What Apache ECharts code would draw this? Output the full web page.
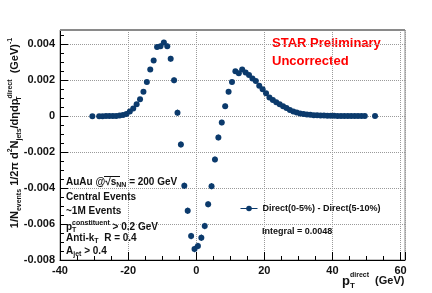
<!DOCTYPE html>
<html>
<head>
<meta charset="utf-8">
<script src="https://cdn.jsdelivr.net/npm/echarts@6/dist/echarts.min.js"></script>
<style>
html,body{margin:0;padding:0;background:#fff;}
#c{width:432px;height:293px;}
</style>
</head>
<body>
<div id="c"></div>
<script>
// ---- data ----
var pT = [-30.5, -28.5, -27.5, -26.5, -25.5, -24.5, -23.5, -22.5, -21.5, -20.5,
  -19.5, -18.5, -17.5, -16.5, -15.5, -14.5, -13.5, -12.5, -11.5, -10.5,
  -9.5, -8.5, -7.5, -6.5, -5.5, -4.5, -3.5, -2.5, -1.5, -0.5,
  0.5, 1.5, 2.5, 3.5, 4.5, 5.5, 6.5, 7.5, 8.5, 9.5,
  10.5, 11.5, 12.5, 13.5, 14.5, 15.5, 16.5, 17.5, 18.5, 19.5,
  20.5, 21.5, 22.5, 23.5, 24.5, 25.5, 26.5, 27.5, 28.5, 29.5,
  30.5, 31.5, 32.5, 33.5, 34.5, 35.5, 36.5, 37.5, 38.5, 39.5,
  40.5, 41.5, 42.5, 43.5, 44.5, 45.5, 46.5, 47.5, 48.5, 49.5, 52.5];
var diffValues = [0.00000, 0.00000, 0.00000, 0.00001, 0.00001, 0.00001, 0.00002, 0.00004, 0.00007, 0.00012,
  0.00026, 0.00043, 0.00067, 0.00094, 0.00137, 0.0019, 0.0026, 0.0031, 0.00385, 0.0039,
  0.0041, 0.0039, 0.0032, 0.0020, 0.0002, -0.00157, -0.00387, -0.00526, -0.00667, -0.00739,
  -0.00722, -0.00676, -0.00611, -0.0049, -0.00389, -0.0024, -0.00118, -0.00035, 0.00056, 0.00137,
  0.0019, 0.0025, 0.0024, 0.0026, 0.00244, 0.0023, 0.0021, 0.00196, 0.0017, 0.0015,
  0.00128, 0.00104, 0.0009, 0.00078, 0.00067, 0.00056, 0.00046, 0.00035, 0.00027, 0.00021,
  0.00016, 0.00012, 0.0001, 0.00008, 0.00006, 0.00005, 0.00004, 0.00004, 0.00003, 0.00003,
  0.00003, 0.00002, 0.00002, 0.00002, 0.00002, 0.00002, 0.00001, 0.00001, 0.00001, 0.00001, 0.00001];
var diffErrors = [0.00002, 0.00002, 0.00002, 0.00002, 0.00002, 0.00002, 0.00002, 0.00003, 0.00003, 0.00004,
  0.00005, 0.00006, 0.00007, 0.00008, 0.0001, 0.00011, 0.00012, 0.00013, 0.00014, 0.00015,
  0.00015, 0.00015, 0.00016, 0.00016, 0.00017, 0.00017, 0.00018, 0.00018, 0.00018, 0.00018,
  0.00018, 0.00018, 0.00018, 0.00017, 0.00017, 0.00016, 0.00016, 0.00015, 0.00015, 0.00014,
  0.00013, 0.00012, 0.00011, 0.0001, 0.00009, 0.00008, 0.00008, 0.00007, 0.00006, 0.00006,
  0.00005, 0.00005, 0.00004, 0.00004, 0.00004, 0.00003, 0.00003, 0.00003, 0.00003, 0.00002,
  0.00002, 0.00002, 0.00002, 0.00002, 0.00002, 0.00002, 0.00002, 0.00002, 0.00002, 0.00002,
  0.00002, 0.00002, 0.00002, 0.00002, 0.00002, 0.00002, 0.00002, 0.00002, 0.00002, 0.00002, 0.00002];
var seriesName = 'Direct(0-5%) - Direct(5-10%)';
var xTicks = [-40, -20, 0, 20, 40, 60];
var yTicks = [-0.008, -0.006, -0.004, -0.002, 0, 0.002, 0.004];

// ---- chart ----
var MARK = '#0b3a6c';
var FONT = '"Liberation Sans", Arial, Helvetica, sans-serif';
var pts = pT.map(function (x, i) { return [x, diffValues[i]]; });
var errPts = pT.map(function (x, i) { return [x, diffValues[i], diffErrors[i]]; });

function near(v, list) {
  for (var i = 0; i < list.length; i++) if (Math.abs(v - list[i]) < 1e-9) return true;
  return false;
}

var chart = echarts.init(document.getElementById('c'), null, {renderer: 'canvas'});
var mainRich = {
  m: {fontSize: 11, fontWeight: 'bold', fontFamily: FONT, fill: '#111', lineHeight: 16, verticalAlign: 'middle'},
  s: {fontSize: 7, fontWeight: 'bold', fontFamily: FONT, fill: '#111', lineHeight: 7, verticalAlign: 'bottom'},
  st: {fontSize: 7, fontWeight: 'bold', fontFamily: FONT, fill: '#111', lineHeight: 7, verticalAlign: 'bottom', width: 0},
  u: {fontSize: 7, fontWeight: 'bold', fontFamily: FONT, fill: '#111', lineHeight: 7, verticalAlign: 'top'}
};
var infoRich = {
  m: {fontSize: 10, fontWeight: 'bold', fontFamily: FONT, fill: '#111', lineHeight: 14, verticalAlign: 'middle'},
  s: {fontSize: 7, fontWeight: 'bold', fontFamily: FONT, fill: '#111', lineHeight: 6, verticalAlign: 'bottom'},
  st: {fontSize: 7, fontWeight: 'bold', fontFamily: FONT, fill: '#111', lineHeight: 6, verticalAlign: 'bottom', width: 0},
  u: {fontSize: 7, fontWeight: 'bold', fontFamily: FONT, fill: '#111', lineHeight: 6, verticalAlign: 'top'}
};
function info(txt, y) {
  return {type: 'text', left: 66, top: y - 4, z: 10,
    style: {text: txt, rich: infoRich, align: 'left', verticalAlign: 'top'}};
}

var option = {
  backgroundColor: '#fff',
  animation: false,
  grid: {left: 60, right: 27, top: 30, bottom: 33, show: true, borderColor: '#8a8a8a', borderWidth: 1, backgroundColor: 'transparent'},
  legend: {
    show: true, left: 240, top: 204, padding: 0, itemWidth: 17, itemHeight: 7,
    data: [seriesName],
    textStyle: {fontSize: 9, fontWeight: 'bold', fontFamily: FONT, color: '#111'},
    lineStyle: {opacity: 1, width: 1, color: MARK}
  },
  xAxis: {
    type: 'value', min: -40, max: 61.3, interval: 20,
    axisLine: {show: true, onZero: false, lineStyle: {color: '#000', width: 1}},
    axisTick: {show: true, inside: true, length: 8, lineStyle: {color: '#000'}},
    minorTick: {show: true, splitNumber: 4, length: 4, lineStyle: {color: '#000'}},
    splitLine: {show: true, lineStyle: {color: '#9a9a9a', type: 'dotted', width: 1}},
    axisLabel: {
      margin: 5, fontSize: 11, fontWeight: 'bold', fontFamily: FONT, color: '#111',
      formatter: function (v) { return near(v, xTicks) ? String(v) : ''; }
    }
  },
  yAxis: {
    type: 'value', min: -0.008, max: 0.0048, interval: 0.002,
    axisLine: {show: true, onZero: false, lineStyle: {color: '#000', width: 1}},
    axisTick: {show: true, inside: true, length: 8, lineStyle: {color: '#000'}},
    minorTick: {show: true, splitNumber: 4, length: 4, lineStyle: {color: '#000'}},
    splitLine: {show: true, lineStyle: {color: '#9a9a9a', type: 'dotted', width: 1}},
    axisLabel: {
      margin: 5, fontSize: 11, fontWeight: 'bold', fontFamily: FONT, color: '#111',
      formatter: function (v) {
        if (!near(v, yTicks)) return '';
        if (Math.abs(v) < 1e-12) return '0';
        return v.toFixed(3);
      }
    }
  },
  series: [
    {
      type: 'custom', name: 'err', silent: true, z: 3,
      data: errPts,
      renderItem: function (params, api) {
        var x = api.value(0), y = api.value(1), e = api.value(2);
        var p1 = api.coord([x, y - e]);
        var p2 = api.coord([x, y + e]);
        return {type: 'line', shape: {x1: p1[0], y1: p1[1], x2: p2[0], y2: p2[1]},
          style: {stroke: MARK, lineWidth: 1}};
      }
    },
    {
      type: 'line', name: seriesName, data: pts, z: 4,
      symbol: 'circle', symbolSize: 6, showSymbol: true,
      itemStyle: {color: MARK},
      lineStyle: {opacity: 0, width: 0},
      emphasis: {disabled: true}
    }
  ],
  graphic: [
    {type: 'line', z: 10, shape: {x1: 60, y1: 30, x2: 432 - 27, y2: 30}, style: {stroke: '#8a8a8a', lineWidth: 2}},
    {type: 'text', left: 262, top: 227, style: {text: 'Integral = 0.0048', fontSize: 9, fontWeight: 'bold', fontFamily: FONT, fill: '#111'}},
    {type: 'text', left: 272, top: 37, style: {text: 'STAR Preliminary', fontSize: 13, fontWeight: 'bold', fontFamily: FONT, fill: '#ff0000'}},
    {type: 'text', left: 272, top: 55, style: {text: 'Uncorrected', fontSize: 13, fontWeight: 'bold', fontFamily: FONT, fill: '#ff0000'}},
    info('{m|AuAu @\u221A}{m|s}{s|NN}{m| = 200 GeV}', 181),
    {type: 'line', z: 10, shape: {x1: 104, y1: 176.5, x2: 120, y2: 176.5}, style: {stroke: '#111', lineWidth: 1}},
    info('{m|Central Events}', 196),
    info('{m|~1M Events}', 210),
    info('{m|p}{st|T}{u|constituent}{m| > 0.2 GeV}', 224),
    info('{m|Anti-k}{s|T}{m|  R = 0.4}', 237),
    info('{m|A}{s|jet}{m| > 0.4}', 250),
    {type: 'text', x: 342, y: 272, z: 10,
      style: {text: '{p|p}{st|T}{u|direct}{m|  (GeV)}', align: 'left', verticalAlign: 'top',
        rich: {
          p: {fontSize: 13, fontWeight: 'bold', fontFamily: FONT, fill: '#111', lineHeight: 18, verticalAlign: 'middle'},
          m: {fontSize: 11, fontWeight: 'bold', fontFamily: FONT, fill: '#111', lineHeight: 18, verticalAlign: 'middle'},
          st: {fontSize: 8, fontWeight: 'bold', fontFamily: FONT, fill: '#111', lineHeight: 8, verticalAlign: 'bottom', width: 0},
          u: {fontSize: 7, fontWeight: 'bold', fontFamily: FONT, fill: '#111', lineHeight: 8, verticalAlign: 'top'}
        }}},
    {type: 'text', x: 15, y: 133, rotation: Math.PI / 2, z: 10,
      style: {text: '{m|1/N}{s|events}{m| 1/2\u03C0 d}{u|2}{m|N}{s|jets}{m|/d\u03B7dp}{st|T}{u|direct}{m|  (GeV)}{u|-1}',
        align: 'center', verticalAlign: 'middle', rich: mainRich}}
  ]
};
chart.setOption(option);
</script>
</body>
</html>
